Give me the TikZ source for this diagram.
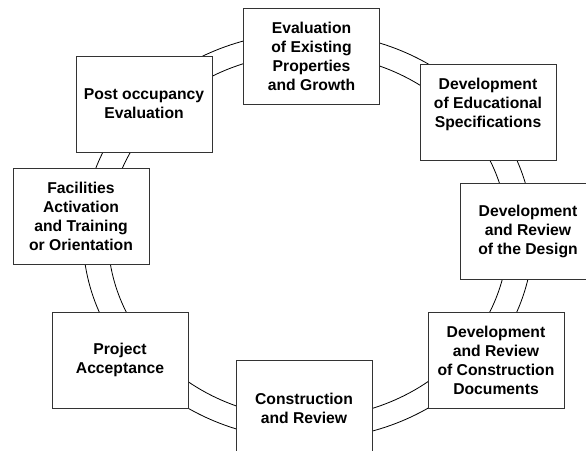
\documentclass[tikz,border=0pt]{standalone}
\usepackage{fontspec}
\setmainfont{Liberation Sans}
\begin{document}
\begin{tikzpicture}[x=1pt,y=-1pt,
  stage/.style={draw=black!80,line width=1pt,fill=white,minimum width=136pt,minimum height=96pt,
    inner sep=0pt,align=center,font={\bfseries\fontsize{15.7}{19}\selectfont}},
  ring/.style={line width=.8pt}]
\useasboundingbox (0,0) rectangle (586,450);
\clip (0,0) rectangle (586,450);
\draw[ring] (308,236) ellipse [x radius=225,y radius=203.5]; %outer
\draw[ring] (308,236) ellipse [x radius=200,y radius=182]; %inner
\node[stage] (eval) at (311.5,56) {Evaluation\\of Existing\\Properties\\and Growth};
\node[stage] (spec) at (488,112) {Development\\of Educational\\Specifications\\\mbox{}};
\node[stage] (design) at (528,231.5) {Development\\and Review\\of the Design};
\node[stage] (docs) at (496,360) {Development\\and Review\\of Construction\\Documents};
\node[stage] (constr) at (304,408) {Construction\\and Review};
\node[stage] (accept) at (120,360) {Project\\Acceptance};
\node[stage] (activ) at (81,216) {Facilities\\Activation\\and Training\\or Orientation};
\node[stage] (post) at (144,104) {Post occupancy\\Evaluation};
\end{tikzpicture}
\end{document}
